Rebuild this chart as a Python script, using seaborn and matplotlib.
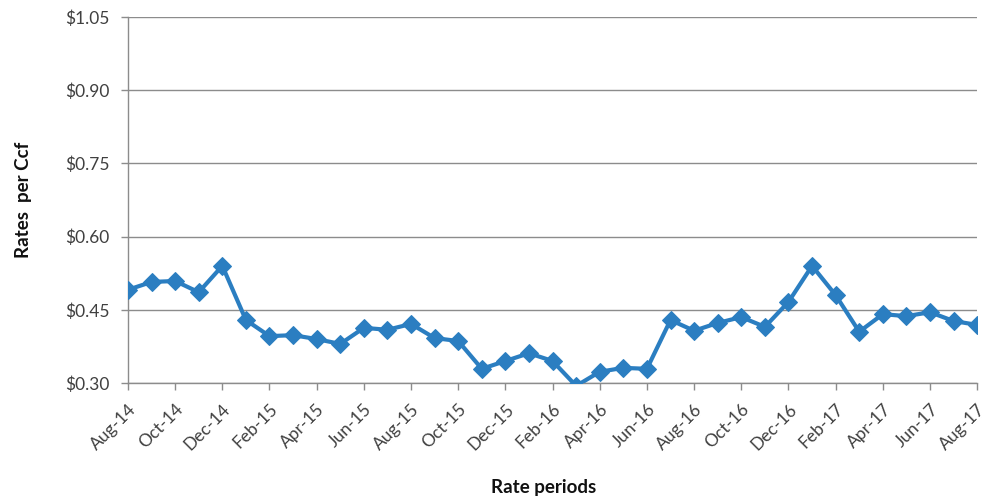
import matplotlib
matplotlib.use("Agg")
import matplotlib.pyplot as plt
import seaborn as sns
import pandas as pd

# Monthly periods Aug-14 .. Aug-17
periods = ["Aug-14", "Sep-14", "Oct-14", "Nov-14", "Dec-14",
           "Jan-15", "Feb-15", "Mar-15", "Apr-15", "May-15", "Jun-15", "Jul-15",
           "Aug-15", "Sep-15", "Oct-15", "Nov-15", "Dec-15",
           "Jan-16", "Feb-16", "Mar-16", "Apr-16", "May-16", "Jun-16", "Jul-16",
           "Aug-16", "Sep-16", "Oct-16", "Nov-16", "Dec-16",
           "Jan-17", "Feb-17", "Mar-17", "Apr-17", "May-17", "Jun-17", "Jul-17",
           "Aug-17"]
rates = [0.491, 0.507, 0.509, 0.486, 0.540,
         0.429, 0.396, 0.398, 0.390, 0.380, 0.413, 0.409,
         0.421, 0.392, 0.386, 0.329, 0.345,
         0.361, 0.345, 0.294, 0.323, 0.331, 0.329, 0.429,
         0.407, 0.423, 0.435, 0.415, 0.466,
         0.540, 0.480, 0.405, 0.441, 0.437, 0.445, 0.427,
         0.419]
y_ticks = [0.30, 0.45, 0.60, 0.75, 0.90, 1.05]

df = pd.DataFrame({"idx": range(len(periods)), "period": periods, "rate": rates})

sns.set_theme(style="white")
plt.rcParams["font.family"] = ["Lato", "DejaVu Sans"]

fig = plt.figure(figsize=(9.95, 4.99), dpi=100)
ax = fig.add_axes([0.1286, 0.2325, 0.8535, 0.7335])

line_color = "#2B7EC1"
sns.lineplot(data=df, x="idx", y="rate", ax=ax, color=line_color, linewidth=3,
             marker="D", markersize=9, markeredgecolor=line_color,
             markerfacecolor=line_color, zorder=3)

tick_color = "#404040"
ax.set_xlim(0, len(periods) - 1)
ax.set_ylim(y_ticks[0], y_ticks[-1])
ax.set_yticks(y_ticks)
ax.set_yticklabels([f"${v:.2f}" for v in y_ticks], fontsize=12.5, color=tick_color)
ax.yaxis.grid(True, color="#8c8c8c", linewidth=1)
ax.xaxis.grid(False)
ax.set_axisbelow(True)

xt = list(range(0, len(periods), 2))
ax.set_xticks(xt)
ax.set_xticklabels([periods[i] for i in xt], rotation=45, ha="right",
                   rotation_mode="anchor", fontsize=12.5, color=tick_color)

for s in ["top", "right"]:
    ax.spines[s].set_visible(False)
for s in ["left", "bottom"]:
    ax.spines[s].set_color("#8c8c8c")
    ax.spines[s].set_linewidth(1)

ax.tick_params(axis="both", which="major", direction="out", length=5,
               width=1, color="#8c8c8c", bottom=True, left=True)
ax.tick_params(axis="y", pad=8)
ax.tick_params(axis="x", pad=8)

ax.set_xlabel("Rate periods", fontsize=13.5, fontweight="bold", color="#111111")
ax.set_ylabel("Rates  per Ccf", fontsize=13.5, fontweight="bold", color="#111111")
ax.xaxis.set_label_coords(0.49, -0.262)
ax.yaxis.set_label_coords(-0.113, 0.50)

fig.savefig("out.png", dpi=100)
